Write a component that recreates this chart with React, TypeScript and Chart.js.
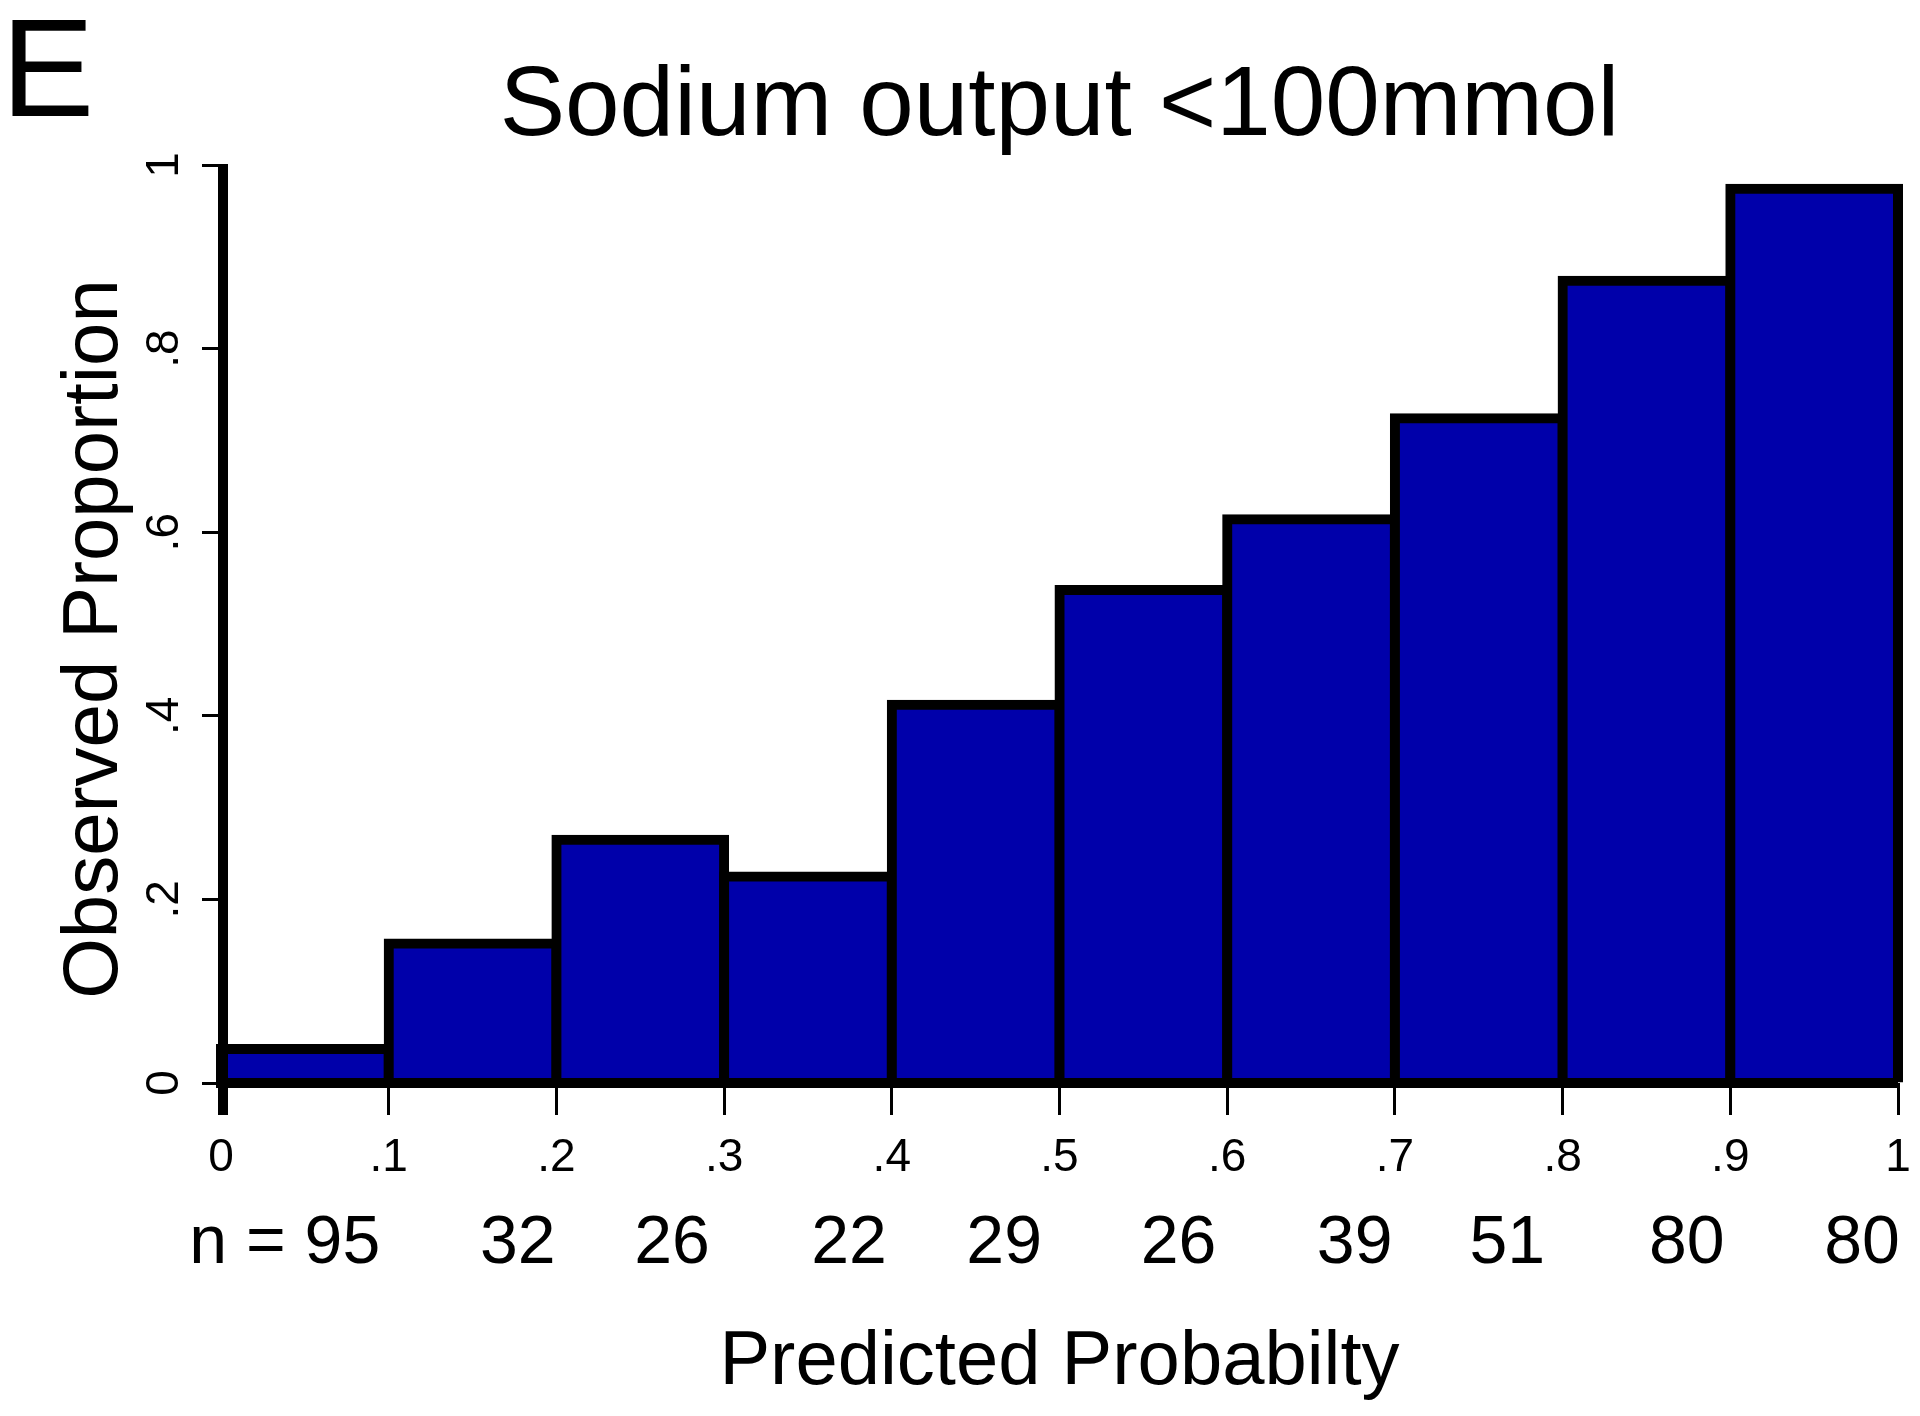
import React, { useEffect, useRef } from "react";
import { Chart, registerables } from "chart.js";

Chart.register(...registerables);

// ---- data ----
const panelLetter = "E";
const chartTitle = "Sodium output <100mmol";
const xAxisTitle = "Predicted Probabilty";
const yAxisTitle = "Observed Proportion";

const binStarts = [0, 0.1, 0.2, 0.3, 0.4, 0.5, 0.6, 0.7, 0.8, 0.9];
const binWidth = 0.1;
const observed = [0.037, 0.152, 0.265, 0.225, 0.412, 0.537, 0.614, 0.724, 0.874, 0.974];

const nCounts = [95, 32, 26, 22, 29, 26, 39, 51, 80, 80];
const nLabelAt = [0.038, 0.177, 0.269, 0.3745, 0.467, 0.571, 0.676, 0.767, 0.874, 0.9785];

const xTickValues = [0, 0.1, 0.2, 0.3, 0.4, 0.5, 0.6, 0.7, 0.8, 0.9, 1];
const xTickLabels = ["0", ".1", ".2", ".3", ".4", ".5", ".6", ".7", ".8", ".9", "1"];
const yTickValues = [0, 0.2, 0.4, 0.6, 0.8, 1];
const yTickLabels = ["0", ".2", ".4", ".6", ".8", "1"];

const FONT = '"Liberation Sans", Arial, sans-serif';

const textPlugin = {
  id: "rTexts",
  afterDatasetsDraw(chart: any) {
    const ctx = chart.ctx as CanvasRenderingContext2D;
    const xs = chart.scales.x;
    const ys = chart.scales.y;
    const area = chart.chartArea;
    ctx.save();
    ctx.fillStyle = "#000";
    ctx.strokeStyle = "#000";

    // axis lines (thick)
    const x0 = xs.getPixelForValue(0);
    const y0 = ys.getPixelForValue(0);
    const y1 = ys.getPixelForValue(1);
    ctx.lineWidth = 10;
    ctx.lineCap = "butt";
    ctx.beginPath();
    ctx.moveTo(x0 - 5, y0);
    ctx.lineTo(xs.getPixelForValue(1), y0);
    ctx.stroke();
    ctx.beginPath();
    ctx.moveTo(x0 + 2, y1 - 1);
    ctx.lineTo(x0 + 2, y0 + 32);
    ctx.stroke();

    // panel letter
    ctx.font = `140px ${FONT}`;
    ctx.textAlign = "left";
    ctx.textBaseline = "alphabetic";
    ctx.fillText(panelLetter, 1, 116);

    // title
    const cx = (area.left + area.right) / 2;
    ctx.font = `98px ${FONT}`;
    ctx.textAlign = "center";
    ctx.fillText(chartTitle, cx, 135);

    // x tick labels
    ctx.font = `46px ${FONT}`;
    xTickValues.forEach((v, i) => {
      ctx.fillText(xTickLabels[i], xs.getPixelForValue(v), 1171);
    });

    // y tick labels (rotated)
    yTickValues.forEach((v, i) => {
      ctx.save();
      ctx.translate(178, ys.getPixelForValue(v));
      ctx.rotate(-Math.PI / 2);
      ctx.textAlign = "center";
      ctx.fillText(yTickLabels[i], 0, 0);
      ctx.restore();
    });

    // n labels
    ctx.font = `68px ${FONT}`;
    nCounts.forEach((n, i) => {
      const label = i === 0 ? `n = ${n}` : `${n}`;
      ctx.fillText(label, xs.getPixelForValue(nLabelAt[i]), 1263);
    });

    // x axis title
    ctx.font = `76px ${FONT}`;
    ctx.fillText(xAxisTitle, cx, 1384);

    // y axis title
    ctx.save();
    ctx.translate(117, 639);
    ctx.rotate(-Math.PI / 2);
    ctx.font = `78px ${FONT}`;
    ctx.textAlign = "center";
    ctx.fillText(yAxisTitle, 0, 0);
    ctx.restore();

    ctx.restore();
  },
};

export default function App() {
  const canvasRef = useRef<HTMLCanvasElement | null>(null);

  useEffect(() => {
    if (!canvasRef.current) return;
    const chart = new Chart(canvasRef.current, {
      type: "bar",
      data: {
        datasets: [
          {
            data: binStarts.map((s, i) => ({ x: s + binWidth / 2, y: observed[i] })),
            backgroundColor: "#0000AA",
            borderColor: "#000000",
            borderWidth: { top: 10, left: 10, right: 10, bottom: 0 },
            borderSkipped: false,
            inflateAmount: 5,
            barPercentage: 1,
            categoryPercentage: 1,
            clip: false,
          } as any,
        ],
      },
      options: {
        animation: false,
        responsive: true,
        maintainAspectRatio: false,
        layout: { padding: { left: 0, right: 22, top: 165, bottom: 0 } },
        plugins: {
          legend: { display: false },
          tooltip: { enabled: false },
          title: { display: false },
        },
        scales: {
          x: {
            type: "linear",
            min: 0,
            max: 1,
            offset: false,
            ticks: { display: false, stepSize: 0.1 },
            grid: {
              offset: false,
              drawOnChartArea: false,
              drawTicks: true,
              tickLength: 32,
              tickWidth: 3,
              tickColor: "#000",
            },
            border: { display: false },
            afterFit: (s: any) => {
              s.height = 333;
            },
          },
          y: {
            type: "linear",
            min: 0,
            max: 1,
            ticks: { display: false, stepSize: 0.2 },
            grid: {
              drawOnChartArea: false,
              drawTicks: true,
              tickLength: 19,
              tickWidth: 3,
              tickColor: "#000",
            },
            border: { display: false },
            afterFit: (s: any) => {
              s.width = 221;
            },
          },
        } as any,
      },
      plugins: [textPlugin],
    });
    return () => chart.destroy();
  }, []);

  return (
    <div
      style={{
        position: "fixed",
        left: 0,
        top: 0,
        width: 1920,
        height: 1416,
        background: "#ffffff",
      }}
    >
      <canvas ref={canvasRef} />
    </div>
  );
}
